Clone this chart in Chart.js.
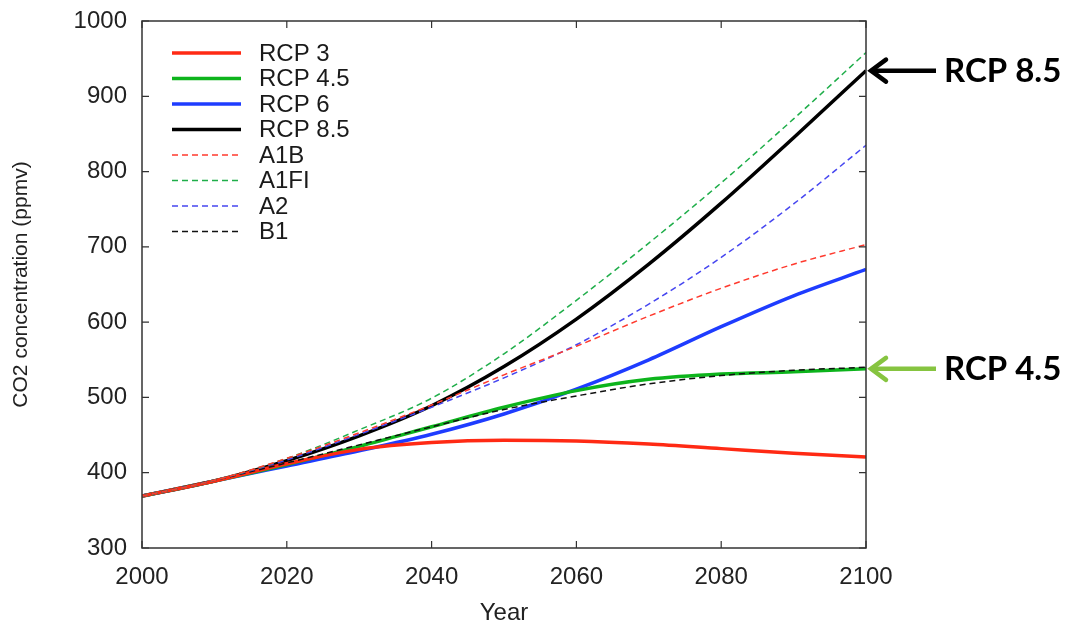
<!DOCTYPE html>
<html lang="en">
<head>
<meta charset="UTF-8">
<title>CO2 concentration scenarios</title>
<script src="https://cdn.jsdelivr.net/npm/chart.js"></script>
<style>
  html, body { margin: 0; padding: 0; background: #fff; }
  #wrap { width: 1073px; height: 625px; position: relative; }
</style>
</head>
<body>
<div id="wrap"><canvas id="co2Chart"></canvas></div>
<script>
// values, every 10 years
const years  = [2000, 2010, 2020, 2030, 2040, 2050, 2060, 2070, 2080, 2090, 2100];
const rcp3   = [369, 389, 412, 431, 440, 443, 442, 438, 432, 426, 421];
const rcp45  = [369, 389, 411, 435, 461, 487, 509, 524, 531, 534, 538];
const rcp6   = [369, 389, 409, 429, 451, 478, 511, 550, 594, 635, 670];
const rcp85  = [369, 389, 416, 449, 489, 541, 604, 677, 758, 845, 934];
const a1b    = [369, 390, 419, 453, 490, 530, 568, 608, 645, 677, 703];
const a1fi   = [369, 390, 419, 457, 499, 558, 629, 705, 785, 870, 958];
const a2     = [369, 390, 417, 451, 487, 526, 570, 624, 686, 757, 835];
const b1     = [369, 390, 413, 437, 461, 484, 502, 518, 529, 536, 540];

const yTicks = [300, 400, 500, 600, 700, 800, 900, 1000];
const xTicks = [2000, 2020, 2040, 2060, 2080, 2100];

function pts(vals) {
    return years.map((yr, i) => ({ x: yr, y: vals[i] }));
}

const solid = (label, vals, color) => ({
    label: label, data: pts(vals), borderColor: color, borderWidth: 3.5,
    pointRadius: 0, fill: false, cubicInterpolationMode: 'monotone', order: 1
});
const dashed = (label, vals, color) => ({
    label: label, data: pts(vals), borderColor: color, borderWidth: 1.5,
    borderDash: [6, 4], pointRadius: 0, fill: false, cubicInterpolationMode: 'monotone', order: 0
});

// frame round the plot with inward ticks on all four sides
const framePlugin = {
    id: 'frame',
    afterDatasetsDraw(chart) {
        const ctx = chart.ctx, a = chart.chartArea;
        const xs = chart.scales.x, ys = chart.scales.y;
        ctx.save();
        ctx.strokeStyle = '#333';
        ctx.lineWidth = 1.5;
        ctx.strokeRect(a.left, a.top, a.right - a.left, a.bottom - a.top);
        ctx.lineWidth = 1.2;
        ctx.beginPath();
        xTicks.forEach(v => {
            const px = xs.getPixelForValue(v);
            ctx.moveTo(px, a.bottom); ctx.lineTo(px, a.bottom - 7);
            ctx.moveTo(px, a.top); ctx.lineTo(px, a.top + 7);
        });
        yTicks.forEach(v => {
            const py = ys.getPixelForValue(v);
            ctx.moveTo(a.left, py); ctx.lineTo(a.left + 7, py);
            ctx.moveTo(a.right, py); ctx.lineTo(a.right - 7, py);
        });
        ctx.stroke();
        ctx.restore();
    }
};

// legend drawn inside the plot, top left
const insideLegend = {
    id: 'insideLegend',
    afterDraw(chart) {
        const ctx = chart.ctx, a = chart.chartArea;
        const x0 = a.left + 30, x1 = a.left + 99, tx = a.left + 117;
        ctx.save();
        ctx.font = '24px "Liberation Sans", Arial, sans-serif';
        ctx.textBaseline = 'middle';
        ctx.fillStyle = '#1a1a1a';
        chart.data.datasets.forEach((ds, i) => {
            const y = a.top + 32 + i * 25.5;
            ctx.strokeStyle = ds.borderColor;
            ctx.lineWidth = ds.borderWidth;
            ctx.setLineDash(ds.borderDash || []);
            ctx.beginPath();
            ctx.moveTo(x0, y); ctx.lineTo(x1, y);
            ctx.stroke();
            ctx.fillText(ds.label, tx, y + 1);
        });
        ctx.restore();
    }
};

// arrows with labels on the right
const callouts = {
    id: 'callouts',
    afterDraw(chart) {
        const ctx = chart.ctx, a = chart.chartArea, ys = chart.scales.y;
        const items = [
            { text: 'RCP 8.5', val: rcp85[rcp85.length - 1], color: '#000' },
            { text: 'RCP 4.5', val: rcp45[rcp45.length - 1], color: '#86c440' }
        ];
        ctx.save();
        items.forEach(it => {
            const y = ys.getPixelForValue(it.val);
            const tip = a.right + 3, tail = a.right + 70;
            ctx.strokeStyle = it.color;
            ctx.lineWidth = 4.5;
            ctx.lineCap = 'butt';
            ctx.beginPath();
            ctx.moveTo(tail, y); ctx.lineTo(tip + 2, y);
            ctx.stroke();
            ctx.lineCap = 'round';
            ctx.lineJoin = 'miter';
            ctx.beginPath();
            ctx.moveTo(tip + 17, y - 11); ctx.lineTo(tip + 2, y); ctx.lineTo(tip + 17, y + 11);
            ctx.stroke();
            ctx.fillStyle = '#000';
            ctx.font = 'bold 33px Lato, "Open Sans", sans-serif';
            ctx.textBaseline = 'middle';
            ctx.fillText(it.text, a.right + 78, y + 1);
        });
        ctx.restore();
    }
};

const tickFont = { family: '"Liberation Sans", Arial, sans-serif', size: 24 };

new Chart(document.getElementById('co2Chart'), {
    type: 'line',
    data: {
        datasets: [
            solid('RCP 3', rcp3, '#ff2a14'),
            solid('RCP 4.5', rcp45, '#0db41c'),
            solid('RCP 6', rcp6, '#1e3cff'),
            solid('RCP 8.5', rcp85, '#000000'),
            dashed('A1B', a1b, '#ff3a2e'),
            dashed('A1FI', a1fi, '#1fae4a'),
            dashed('A2', a2, '#4646f0'),
            dashed('B1', b1, '#111111')
        ]
    },
    options: {
        responsive: true,
        maintainAspectRatio: false,
        animation: false,
        layout: { padding: { left: 0, right: 207, top: 21, bottom: 0 } },
        plugins: {
            legend: { display: false },
            tooltip: { enabled: false }
        },
        scales: {
            x: {
                type: 'linear', min: 2000, max: 2100,
                afterBuildTicks: s => { s.ticks = xTicks.map(v => ({ value: v })); },
                afterFit: s => { s.height = 77; s.paddingLeft = 0; s.paddingRight = 0; },
                grid: { display: false, drawTicks: false },
                border: { display: false },
                ticks: { padding: 15, color: '#222', font: tickFont, callback: v => String(v) },
                title: { display: true, text: 'Year', color: '#222', padding: { top: 0, bottom: -3 }, font: tickFont }
            },
            y: {
                min: 300, max: 1000,
                afterBuildTicks: s => { s.ticks = yTicks.map(v => ({ value: v })); },
                afterFit: s => { s.width = 142; s.paddingTop = 0; s.paddingBottom = 0; },
                grid: { display: false, drawTicks: false },
                border: { display: false },
                ticks: { padding: 15, color: '#222', font: tickFont, callback: v => String(v) },
                title: { display: true, text: 'CO2 concentration (ppmv)', color: '#222', padding: 9,
                         font: { family: '"Liberation Sans", Arial, sans-serif', size: 21 } }
            }
        }
    },
    plugins: [framePlugin, insideLegend, callouts]
});
</script>
</body>
</html>
